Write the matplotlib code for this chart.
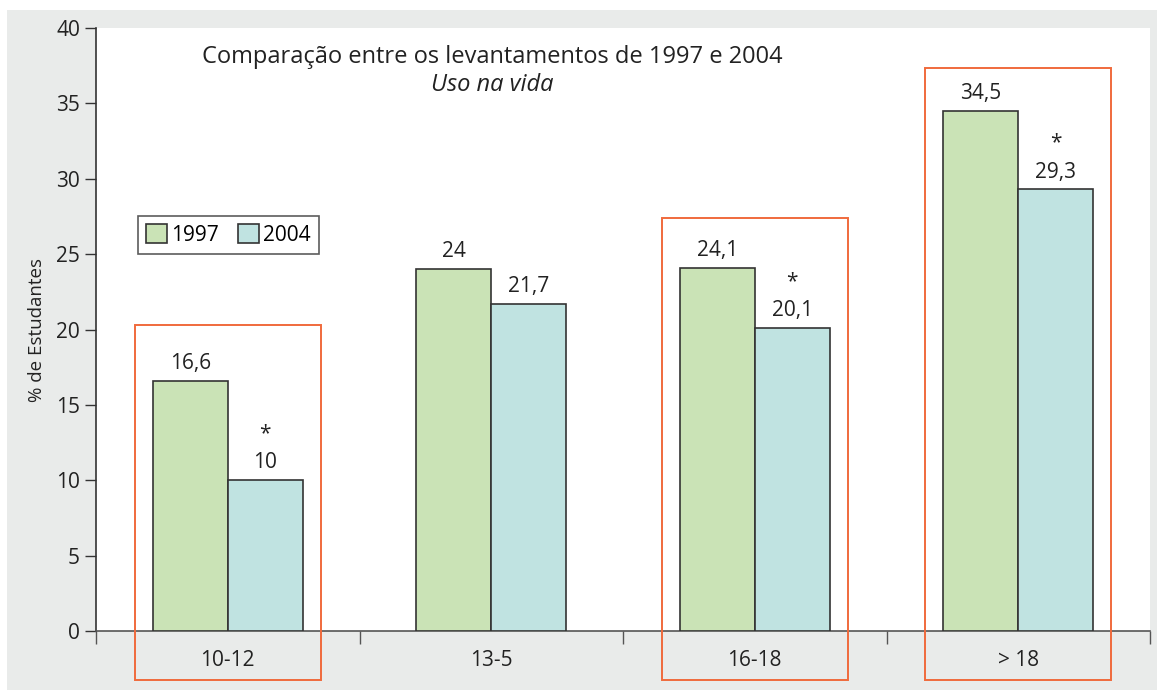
import numpy as np
import matplotlib.pyplot as plt
from matplotlib.patches import Rectangle

# data
faixas = ['10-12', '13-5', '16-18', '> 18']
v1997 = [16.6, 24, 24.1, 34.5]
v2004 = [10, 21.7, 20.1, 29.3]
signif = [True, False, True, True]
# highlighted groups and top of their frames
destaque = [0, 2, 3]
destaque_topo = [20.3, 27.4, 37.35]

verde = '#cae3b6'
azul = '#c0e3e1'
cinza = '#e9ebea'
vermelho = '#f06a3c'

plt.rcParams['font.family'] = ['Open Sans', 'DejaVu Sans']

fig = plt.figure(figsize=(11.57, 6.91), dpi=100)
fig.patch.set_facecolor('white')
# grey panel behind everything
fig.patches.append(Rectangle((7/1157, 1/691), 1 - 7/1157, 680/691,
                             transform=fig.transFigure, facecolor=cinza,
                             edgecolor='none', zorder=-10))

ax = fig.add_axes([96/1157, 1 - 631/691, 1054/1157, 603/691])
ax.set_facecolor('white')

x = np.arange(len(faixas)) + 0.5
w = 0.285
ax.bar(x - w/2, v1997, w, color=verde, edgecolor='#333333', linewidth=1.2, label='1997', zorder=3)
ax.bar(x + w/2, v2004, w, color=azul, edgecolor='#333333', linewidth=1.2, label='2004', zorder=3)

fmt = lambda v: ('%g' % v).replace('.', ',')
for xi, v in zip(x - w/2, v1997):
    ax.text(xi, v + 0.45, fmt(v), ha='center', va='bottom', fontsize=15, color='#222222')
for xi, v, s in zip(x + w/2, v2004, signif):
    ax.text(xi, v + 0.45, fmt(v), ha='center', va='bottom', fontsize=15, color='#222222')
    if s:
        ax.text(xi, v + 2.4, '*', ha='center', va='bottom', fontsize=15, color='#222222')

# red frames around highlighted groups
for i, top in zip(destaque, destaque_topo):
    ax.add_patch(Rectangle((x[i] - 0.352, -3.25), 0.704, top + 3.25, fill=False,
                           edgecolor=vermelho, linewidth=1.4, clip_on=False, zorder=4))

ax.set_xlim(0, len(faixas))
ax.set_ylim(0, 40)
ax.set_yticks(range(0, 41, 5))
ax.set_xticks(x)
ax.set_xticklabels(faixas, fontsize=15, color='#222222')
ax.set_xticks(np.arange(len(faixas) + 1), minor=True)
ax.tick_params(axis='x', which='major', length=0, pad=14)
ax.tick_params(axis='x', which='minor', length=9, width=1, color='#555555')
ax.tick_params(axis='y', length=8, width=1, labelsize=15, labelcolor='#222222', color='#333333')
for s in ['top', 'right']:
    ax.spines[s].set_visible(False)
ax.spines['left'].set_color('#333333')
ax.spines['bottom'].set_color('#555555')
ax.spines['left'].set_linewidth(1.2)
ax.spines['bottom'].set_linewidth(1.2)

ax.set_ylabel('% de Estudantes', fontsize=13.5, color='#222222', labelpad=7)

ax.text(0.376, 0.952, 'Comparação entre os levantamentos de 1997 e 2004', transform=ax.transAxes,
        ha='center', va='center', fontsize=17, color='#222222')
ax.text(0.376, 0.905, 'Uso na vida', transform=ax.transAxes, ha='center', va='center',
        fontsize=17, style='italic', color='#222222')

leg = ax.legend(loc='upper left', bbox_to_anchor=(0.0398, 0.688), ncol=2, fontsize=15,
                frameon=True, fancybox=False, edgecolor='#333333', handlelength=1.0,
                handleheight=1.0, handletextpad=0.2, columnspacing=0.9, borderpad=0.4,
                borderaxespad=0)
leg.get_frame().set_linewidth(1.2)

fig.savefig('out.png', dpi=100, facecolor=fig.get_facecolor())
